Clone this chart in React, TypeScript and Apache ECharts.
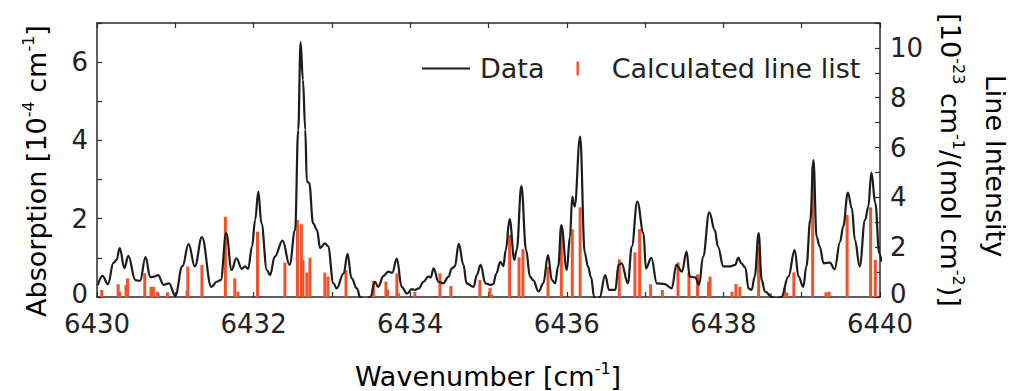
import React, { useEffect, useRef } from 'react';
import * as echarts from 'echarts';

// Measured absorption spectrum (wavenumber in cm^-1, absorption in 1e-4 cm^-1)
const wavenumbers = [
  6430.01, 6430.07, 6430.14, 6430.21, 6430.25, 6430.29, 6430.35, 6430.40, 6430.49, 6430.55,
  6430.62, 6430.68, 6430.73, 6430.78, 6430.85, 6430.92, 6431.00, 6431.09, 6431.17, 6431.25,
  6431.34, 6431.46, 6431.53, 6431.58, 6431.65, 6431.72, 6431.78, 6431.85, 6431.89, 6431.93,
  6431.98, 6432.02, 6432.06, 6432.10, 6432.17, 6432.21, 6432.27, 6432.37, 6432.46, 6432.53,
  6432.57, 6432.60, 6432.63, 6432.66, 6432.68, 6432.71, 6432.76, 6432.81, 6432.85, 6432.91,
  6432.95, 6433.02, 6433.06, 6433.15, 6433.20, 6433.25, 6433.32, 6433.36, 6433.42, 6433.49,
  6433.55, 6433.59, 6433.66, 6433.72, 6433.77, 6433.83, 6433.89, 6433.96, 6434.02, 6434.06,
  6434.11, 6434.17, 6434.23, 6434.26, 6434.30, 6434.36, 6434.42, 6434.49, 6434.53, 6434.57,
  6434.62, 6434.68, 6434.72, 6434.81, 6434.85, 6434.90, 6434.96, 6435.02, 6435.06, 6435.10,
  6435.15, 6435.19, 6435.22, 6435.27, 6435.33, 6435.36, 6435.42, 6435.48, 6435.53, 6435.57,
  6435.64, 6435.70, 6435.76, 6435.81, 6435.85, 6435.89, 6435.93, 6436.00, 6436.04, 6436.07,
  6436.10, 6436.17, 6436.23, 6436.27, 6436.31, 6436.35, 6436.39, 6436.42, 6436.49, 6436.54,
  6436.62, 6436.66, 6436.70, 6436.78, 6436.83, 6436.90, 6436.98, 6437.01, 6437.08, 6437.15,
  6437.25, 6437.34, 6437.40, 6437.47, 6437.53, 6437.57, 6437.64, 6437.69, 6437.74, 6437.82,
  6437.89, 6437.93, 6438.00, 6438.08, 6438.15, 6438.19, 6438.23, 6438.28, 6438.32, 6438.36,
  6438.40, 6438.45, 6438.49, 6438.53, 6438.62, 6438.67, 6438.74, 6438.83, 6438.91, 6438.96,
  6439.02, 6439.06, 6439.11, 6439.15, 6439.19, 6439.23, 6439.28, 6439.36, 6439.42, 6439.49,
  6439.53, 6439.59, 6439.64, 6439.68, 6439.74, 6439.81, 6439.85, 6439.89, 6439.94, 6439.99,
  6440.02,
];
const absorption = [
  0.30, 0.54, 0.33, 0.87, 0.95, 1.25, 0.74, 1.05, 0.43, 0.41,
  1.02, 0.51, 0.52, 0.56, 0.31, 0.35, 0.03, 0.78, 1.35, 0.78,
  1.53, 0.26, 0.39, 0.43, 1.63, 0.69, 0.99, 0.72, 0.78, 0.72,
  1.29, 1.97, 2.69, 1.88, 0.69, 0.56, 1.03, 1.44, 0.82, 1.71,
  4.27, 6.51, 5.55, 4.27, 2.95, 2.91, 1.88, 1.71, 1.25, 1.37,
  1.30, 0.35, 0.22, 0.60, 1.10, 0.48, 0.22, 0.00, -0.10, 0.00,
  0.39, 0.26, 0.54, 0.65, 0.62, 0.98, 0.26, 0.09, 0.20, 0.18,
  0.22, 0.39, 0.52, 0.50, 0.73, 0.39, 0.35, 0.52, 0.73, 0.78,
  1.36, 0.82, 0.35, 0.26, 0.56, 0.82, 0.35, 0.31, 0.33, 0.60,
  0.90, 0.79, 1.20, 1.99, 0.95, 1.20, 2.84, 1.20, 0.52, 0.43,
  0.14, 0.35, 1.07, 0.43, 0.35, 0.78, 1.84, 0.69, 1.54, 2.56,
  2.31, 4.10, 1.12, 0.78, 0.50, 0.00, -0.10, 0.00, 0.56, 0.18,
  0.18, 0.82, 0.86, 0.35, 1.29, 2.44, 1.63, 0.73, 1.00, 0.35,
  0.33, 0.22, 0.82, 0.65, 1.16, 0.52, 0.50, 0.31, 1.03, 2.16,
  1.71, 1.29, 0.78, 0.78, 0.82, 1.00, 0.86, 0.75, 0.22, 0.18,
  0.52, 1.63, 0.43, 0.14, 0.00, -0.05, 0.00, 0.52, 1.20, 0.52,
  0.26, 0.78, 1.97, 3.50, 1.54, 1.29, 0.86, 0.88, 0.71, 1.41,
  1.80, 2.67, 2.27, 1.46, 0.78, 1.97, 2.30, 3.18, 2.40, 1.12,
  0.90,
];

// Calculated line list (wavenumber in cm^-1, intensity in 1e-23 cm^-1/(mol cm^-2))
const lineWavenumbers = [
  6430.06, 6430.27, 6430.29, 6430.37, 6430.39, 6430.61, 6430.69, 6430.72, 6430.77, 6430.78,
  6430.90, 6431.15, 6431.16, 6431.34, 6431.64, 6431.76, 6431.80, 6432.05, 6432.40, 6432.56,
  6432.61, 6432.63, 6432.68, 6432.72, 6432.91, 6432.95, 6433.18, 6433.53, 6433.69, 6433.71,
  6433.83, 6433.85, 6434.06, 6434.38, 6434.52, 6434.89, 6435.02, 6435.04, 6435.27, 6435.39,
  6435.44, 6435.76, 6435.93, 6436.07, 6436.17, 6436.67, 6436.87, 6436.93, 6437.07, 6437.22,
  6437.42, 6437.56, 6437.67, 6437.81, 6437.83, 6438.11, 6438.16, 6438.21, 6438.45, 6438.60,
  6438.78, 6438.81, 6438.90, 6439.14, 6439.31, 6439.35, 6439.58, 6439.88, 6439.94,
];
const lineIntensity = [
  0.28, 0.51, 0.21, 0.48, 0.75, 0.95, 0.41, 0.41, 0.21, 0.15,
  0.19, 0.25, 1.22, 1.29, 3.22, 0.75, 0.21, 2.62, 1.39, 3.09,
  2.92, 1.49, 0.98, 1.58, 0.98, 0.82, 1.08, 0.65, 0.62, 0.30,
  0.95, 0.15, 0.20, 0.95, 0.44, 0.68, 0.37, 0.10, 2.49, 1.59,
  1.92, 1.22, 2.82, 2.72, 3.60, 1.51, 1.79, 2.72, 0.51, 0.28,
  1.39, 0.99, 0.91, 0.62, 0.82, 0.21, 0.52, 0.41, 2.00, 0.15,
  0.35, 0.18, 0.99, 5.23, 0.19, 0.21, 3.29, 3.60, 1.49,
];

const seriesNames = ['Data', 'Calculated line list'];

export default function App() {
  const ref = useRef<HTMLDivElement>(null);

  useEffect(() => {
    if (!ref.current) return;
    const chart = echarts.init(ref.current, null, { renderer: 'svg' });
    const font = 'DejaVu Sans';
    const textColor = '#222222';
    const axisColor = '#2a2a2a';
    const evenOnly = (v: number) => {
      const r = Math.round(v);
      return r % 2 === 0 ? String(r) : '';
    };
    const evenOnlyY = (v: number) => {
      const r = Math.round(v);
      if (r === 0) return '{z|0}';
      return r % 2 === 0 ? String(r) : '';
    };
    const axisLine = { show: true, onZero: false, lineStyle: { color: axisColor, width: 1.5 } };
    const axisTick = { show: true, inside: true, length: 5, lineStyle: { color: axisColor, width: 1.2 } };
    const labelStyle = { fontFamily: font, fontSize: 26, color: textColor, lineHeight: 20 };
    const zeroRich = { z: { fontFamily: font, fontSize: 26, color: textColor, lineHeight: 20, padding: [0, 0, 7, 0] } };
    const rich = {
      m: { fontFamily: font, fontSize: 27, color: textColor, lineHeight: 32 },
      s: { fontFamily: font, fontSize: 16, color: textColor, verticalAlign: 'top', lineHeight: 16 },
    };

    chart.setOption({
      animation: false,
      backgroundColor: '#ffffff',
      grid: { left: 97, right: 133, top: 23, bottom: 94, containLabel: false },
      xAxis: [
        {
          type: 'value', min: 6430, max: 6440, interval: 1, position: 'bottom',
          axisLine, axisTick,
          axisLabel: { ...labelStyle, formatter: evenOnly, margin: 17, showMinLabel: true, showMaxLabel: true },
          splitLine: { show: false },
        },
        {
          type: 'value', min: 6430, max: 6440, interval: 1, position: 'top',
          axisLine, axisTick, axisLabel: { show: false }, splitLine: { show: false },
        },
      ],
      yAxis: [
        {
          type: 'value', min: 0, max: 7, interval: 1, position: 'left',
          axisLine, axisTick,
          axisLabel: { ...labelStyle, formatter: evenOnlyY, margin: 9, rich: zeroRich },
          splitLine: { show: false },
        },
        {
          type: 'value', min: 0, max: 11, interval: 1, position: 'right',
          axisLine, axisTick,
          axisLabel: { ...labelStyle, formatter: evenOnlyY, margin: 10, rich: zeroRich },
          splitLine: { show: false },
        },
      ],
      legend: {
        left: 422, top: 55, orient: 'horizontal', padding: 0,
        itemWidth: 48, itemHeight: 14, itemGap: 32,
        textStyle: { fontFamily: font, fontSize: 27, color: textColor, padding: [0, 0, 0, 5] },
        data: [
          { name: seriesNames[0], icon: 'path://M0,0H48V2.2H0Z' },
          { name: seriesNames[1], icon: 'path://M0,0H2.4V14H0Z' },
        ],
      },
      series: [
        {
          name: seriesNames[0], type: 'line', xAxisIndex: 0, yAxisIndex: 0,
          data: wavenumbers.map((w, i) => [w, absorption[i]]),
          symbol: 'none', showSymbol: false, smooth: 0.4, smoothMonotone: 'x', clip: true,
          lineStyle: { color: '#1c1c1c', width: 2.2 }, itemStyle: { color: '#1c1c1c' },
        },
        {
          name: seriesNames[1], type: 'bar', xAxisIndex: 0, yAxisIndex: 1,
          data: lineWavenumbers.map((w, i) => [w, lineIntensity[i]]),
          barWidth: 3, itemStyle: { color: '#f0522a' },
        },
      ],
      graphic: [
        {
          type: 'text', x: 36, y: 171, rotation: Math.PI / 2,
          style: {
            text: '{m|Absorption [10}{s|-4}{m| cm}{s|-1}{m|]}',
            rich, align: 'center', verticalAlign: 'middle',
          },
        },
        {
          type: 'text', x: 488, y: 376,
          style: {
            text: '{m|Wavenumber [cm}{s|-1}{m|]}',
            rich, align: 'center', verticalAlign: 'middle',
          },
        },
        {
          type: 'text', x: 995, y: 166, rotation: -Math.PI / 2,
          style: { text: '{m|Line Intensity}', rich, align: 'center', verticalAlign: 'middle' },
        },
        {
          type: 'text', x: 950, y: 160, rotation: -Math.PI / 2,
          style: {
            text: '{m|[10}{s|-23}{m| cm}{s|-1}{m|/(mol cm}{s|-2}{m|)]}',
            rich, align: 'center', verticalAlign: 'middle',
          },
        },
      ],
    });
    return () => chart.dispose();
  }, []);

  return <div ref={ref} style={{ position: 'fixed', left: 0, top: 0, width: 1013, height: 391 }} />;
}
